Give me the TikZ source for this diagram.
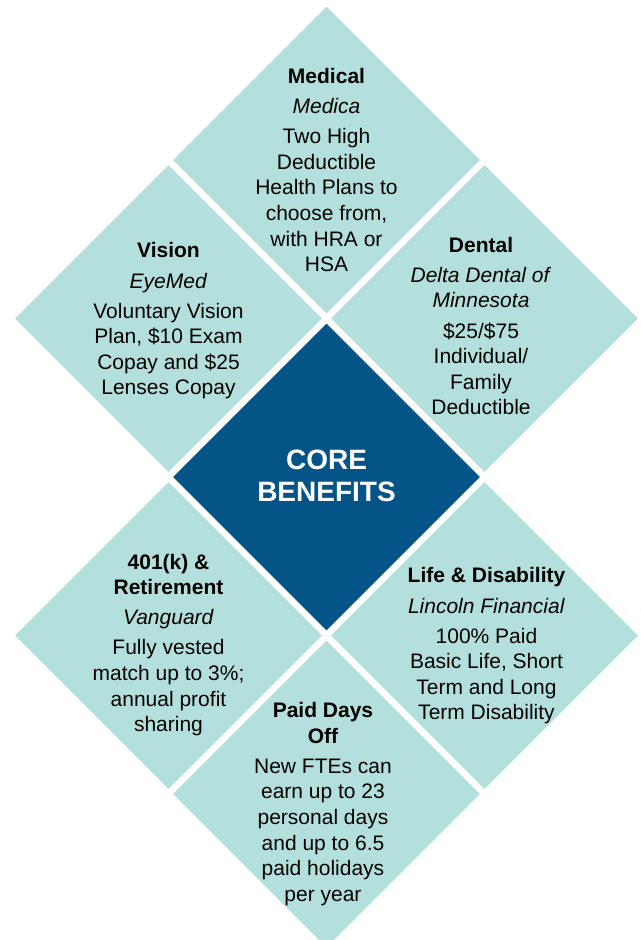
\documentclass[tikz,border=0pt]{standalone}
\usepackage{fontspec}
\setmainfont{Liberation Sans}
\usetikzlibrary{shapes.geometric}
\definecolor{tealtile}{RGB}{179,224,221}
\definecolor{coreblue}{RGB}{4,84,135}
\begin{document}
\begin{tikzpicture}[x=0.75pt,y=-0.75pt,
  tile/.style={diamond, minimum width=230.25pt, minimum height=230.25pt, inner sep=0pt, fill=tealtile, draw=none},
  coretile/.style={tile, fill=coreblue},
  txt/.style={align=center, font=\fontsize{15.75}{19.2}\selectfont, text=black, inner sep=0pt},
  coretxt/.style={align=center, font=\fontsize{21}{24}\selectfont\bfseries, text=white, inner sep=0pt}
]
\useasboundingbox (0,0) rectangle (641,940);

\node[tile] (medical) at (326.5,160) {};
\node[tile] (vision) at (168.5,318.5) {};
\node[tile] (dental) at (484.5,318.5) {};
\node[coretile] (core) at (326.5,477) {};
\node[tile] (retire) at (168.5,635.5) {};
\node[tile] (life) at (484.5,635.5) {};
\node[tile] (paid) at (326.5,794) {};

\node[txt] (medicaltxt) at (326.5,170) {\textbf{Medical}\\[3.4pt]\textit{Medica}\\[3.4pt]Two High\\Deductible\\Health Plans to\\choose from,\\with HRA or\\HSA};
\node[txt] (visiontxt) at (168.5,321) {\textbf{Vision}\\[3.4pt]\textit{EyeMed}\\[3.4pt]Voluntary Vision\\Plan, \$10 Exam\\Copay and \$25\\Lenses Copay};
\node[txt] (dentaltxt) at (481,326) {\textbf{Dental}\\[3.4pt]\textit{Delta Dental of}\\\textit{Minnesota}\\[3.4pt]\$25/\$75\\Individual/\\Family\\Deductible};
\node[coretxt] (coretext) at (326.5,475.5) {CORE\\BENEFITS};
\node[txt] (retiretxt) at (168.5,645) {\textbf{401(k) \&}\\\textbf{Retirement}\\[3.4pt]\textit{Vanguard}\\[3.4pt]Fully vested\\match up to 3\%;\\annual profit\\sharing};
\node[txt] (lifetxt) at (486.5,646) {\textbf{Life \& Disability}\\[3.4pt]\textit{Lincoln Financial}\\[3.4pt]100\% Paid\\Basic Life, Short\\Term and Long\\Term Disability};
\node[txt] (paidtxt) at (323,804) {\textbf{Paid Days}\\\textbf{Off}\\[3.4pt]New FTEs can\\earn up to 23\\personal days\\and up to 6.5\\paid holidays\\per year};
\end{tikzpicture}
\end{document}
